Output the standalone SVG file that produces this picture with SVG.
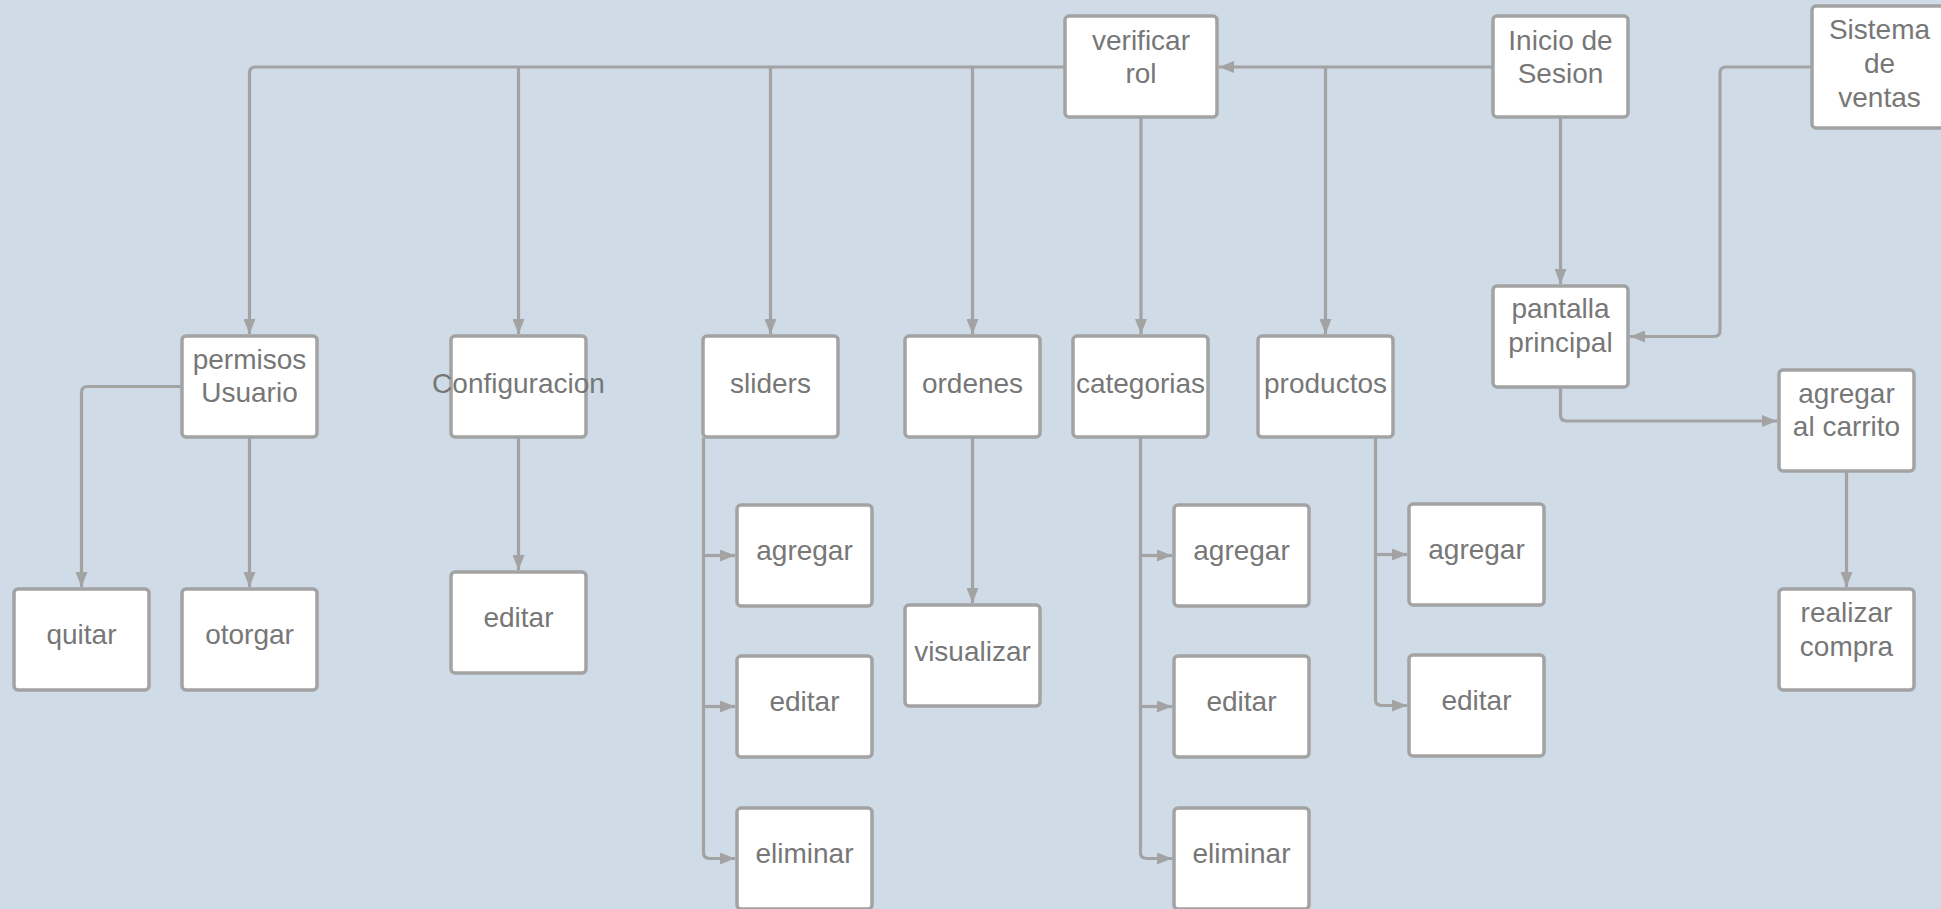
<svg xmlns="http://www.w3.org/2000/svg" width="1941" height="909" viewBox="0 0 1941 909">
<style>
.box{fill:#ffffff;stroke:#a3a3a3;stroke-width:3.5}
.t{font-family:"Liberation Sans",Arial,sans-serif;font-size:28px;fill:#777777;text-anchor:middle}
.c{fill:none;stroke:#a3a3a3;stroke-width:3.2}
</style>
<defs>
<marker id="ah" viewBox="0 0 15 12" refX="15" refY="6" markerWidth="15" markerHeight="12" markerUnits="userSpaceOnUse" orient="auto">
<path d="M0,0 L15,6 L0,12 Z" fill="#a3a3a3"/>
</marker>
</defs>
<rect x="0" y="0" width="1941" height="909" fill="#cfdbe6"/>
<g id="connectors">
<path class="c" d="M1493,67 H1219" marker-end="url(#ah)"/>
<path class="c" d="M1325.5,67 V334" marker-end="url(#ah)"/>
<path class="c" d="M1065,67 H255.5 Q249.5,67 249.5,73 V334" marker-end="url(#ah)"/>
<path class="c" d="M518.5,67 V334" marker-end="url(#ah)"/>
<path class="c" d="M770.5,67 V334" marker-end="url(#ah)"/>
<path class="c" d="M972.5,67 V334" marker-end="url(#ah)"/>
<path class="c" d="M1141,117.5 V334" marker-end="url(#ah)"/>
<path class="c" d="M1560.5,117.5 V284" marker-end="url(#ah)"/>
<path class="c" d="M1812,67 H1726 Q1720,67 1720,73 V330.5 Q1720,336.5 1714,336.5 H1630" marker-end="url(#ah)"/>
<path class="c" d="M1560.5,387.5 V415 Q1560.5,421 1566.5,421 H1777" marker-end="url(#ah)"/>
<path class="c" d="M1846.5,471.5 V587" marker-end="url(#ah)"/>
<path class="c" d="M182,386.5 H87.5 Q81.5,386.5 81.5,392.5 V587" marker-end="url(#ah)"/>
<path class="c" d="M249.5,437.5 V587" marker-end="url(#ah)"/>
<path class="c" d="M518.5,437.5 V570" marker-end="url(#ah)"/>
<path class="c" d="M703.5,437.5 V852.5 Q703.5,858.5 709.5,858.5 H735" marker-end="url(#ah)"/>
<path class="c" d="M703.5,555.5 H735" marker-end="url(#ah)"/>
<path class="c" d="M703.5,706.5 H735" marker-end="url(#ah)"/>
<path class="c" d="M972.5,437.5 V603" marker-end="url(#ah)"/>
<path class="c" d="M1140.5,437.5 V852.5 Q1140.5,858.5 1146.5,858.5 H1172" marker-end="url(#ah)"/>
<path class="c" d="M1140.5,555.5 H1172" marker-end="url(#ah)"/>
<path class="c" d="M1140.5,706.5 H1172" marker-end="url(#ah)"/>
<path class="c" d="M1375.5,437.5 V699.5 Q1375.5,705.5 1381.5,705.5 H1407" marker-end="url(#ah)"/>
<path class="c" d="M1375.5,554.5 H1407" marker-end="url(#ah)"/>
</g>
<g id="verificar-rol"><rect class="box" x="1065" y="16" width="152" height="101" rx="4"/><text class="t" x="1141" y="50">verificar</text><text class="t" x="1141" y="83">rol</text></g>
<g id="inicio-sesion"><rect class="box" x="1493" y="16" width="135" height="101" rx="4"/><text class="t" x="1560.5" y="50">Inicio de</text><text class="t" x="1560.5" y="83">Sesion</text></g>
<g id="sistema-ventas"><rect class="box" x="1812" y="6" width="135" height="122" rx="4"/><text class="t" x="1879.5" y="39">Sistema</text><text class="t" x="1879.5" y="73">de</text><text class="t" x="1879.5" y="107">ventas</text></g>
<g id="pantalla-principal"><rect class="box" x="1493" y="286" width="135" height="101" rx="4"/><text class="t" x="1560.5" y="318">pantalla</text><text class="t" x="1560.5" y="352">principal</text></g>
<g id="agregar-carrito"><rect class="box" x="1779" y="370" width="135" height="101" rx="4"/><text class="t" x="1846.5" y="403">agregar</text><text class="t" x="1846.5" y="436">al carrito</text></g>
<g id="realizar-compra"><rect class="box" x="1779" y="589" width="135" height="101" rx="4"/><text class="t" x="1846.5" y="622">realizar</text><text class="t" x="1846.5" y="656">compra</text></g>
<g id="permisos-usuario"><rect class="box" x="182" y="336" width="135" height="101" rx="4"/><text class="t" x="249.5" y="369">permisos</text><text class="t" x="249.5" y="402">Usuario</text></g>
<g id="configuracion"><rect class="box" x="451" y="336" width="135" height="101" rx="4"/><text class="t" x="518.5" y="393">Configuracion</text></g>
<g id="sliders"><rect class="box" x="703" y="336" width="135" height="101" rx="4"/><text class="t" x="770.5" y="393">sliders</text></g>
<g id="ordenes"><rect class="box" x="905" y="336" width="135" height="101" rx="4"/><text class="t" x="972.5" y="393">ordenes</text></g>
<g id="categorias"><rect class="box" x="1073" y="336" width="135" height="101" rx="4"/><text class="t" x="1140.5" y="393">categorias</text></g>
<g id="productos"><rect class="box" x="1258" y="336" width="135" height="101" rx="4"/><text class="t" x="1325.5" y="393">productos</text></g>
<g id="quitar"><rect class="box" x="14" y="589" width="135" height="101" rx="4"/><text class="t" x="81.5" y="644">quitar</text></g>
<g id="otorgar"><rect class="box" x="182" y="589" width="135" height="101" rx="4"/><text class="t" x="249.5" y="644">otorgar</text></g>
<g id="config-editar"><rect class="box" x="451" y="572" width="135" height="101" rx="4"/><text class="t" x="518.5" y="627">editar</text></g>
<g id="sliders-agregar"><rect class="box" x="737" y="505" width="135" height="101" rx="4"/><text class="t" x="804.5" y="560">agregar</text></g>
<g id="sliders-editar"><rect class="box" x="737" y="656" width="135" height="101" rx="4"/><text class="t" x="804.5" y="711">editar</text></g>
<g id="sliders-eliminar"><rect class="box" x="737" y="808" width="135" height="101" rx="4"/><text class="t" x="804.5" y="863">eliminar</text></g>
<g id="visualizar"><rect class="box" x="905" y="605" width="135" height="101" rx="4"/><text class="t" x="972.5" y="661">visualizar</text></g>
<g id="categorias-agregar"><rect class="box" x="1174" y="505" width="135" height="101" rx="4"/><text class="t" x="1241.5" y="560">agregar</text></g>
<g id="categorias-editar"><rect class="box" x="1174" y="656" width="135" height="101" rx="4"/><text class="t" x="1241.5" y="711">editar</text></g>
<g id="categorias-eliminar"><rect class="box" x="1174" y="808" width="135" height="101" rx="4"/><text class="t" x="1241.5" y="863">eliminar</text></g>
<g id="productos-agregar"><rect class="box" x="1409" y="504" width="135" height="101" rx="4"/><text class="t" x="1476.5" y="559">agregar</text></g>
<g id="productos-editar"><rect class="box" x="1409" y="655" width="135" height="101" rx="4"/><text class="t" x="1476.5" y="710">editar</text></g>
</svg>
